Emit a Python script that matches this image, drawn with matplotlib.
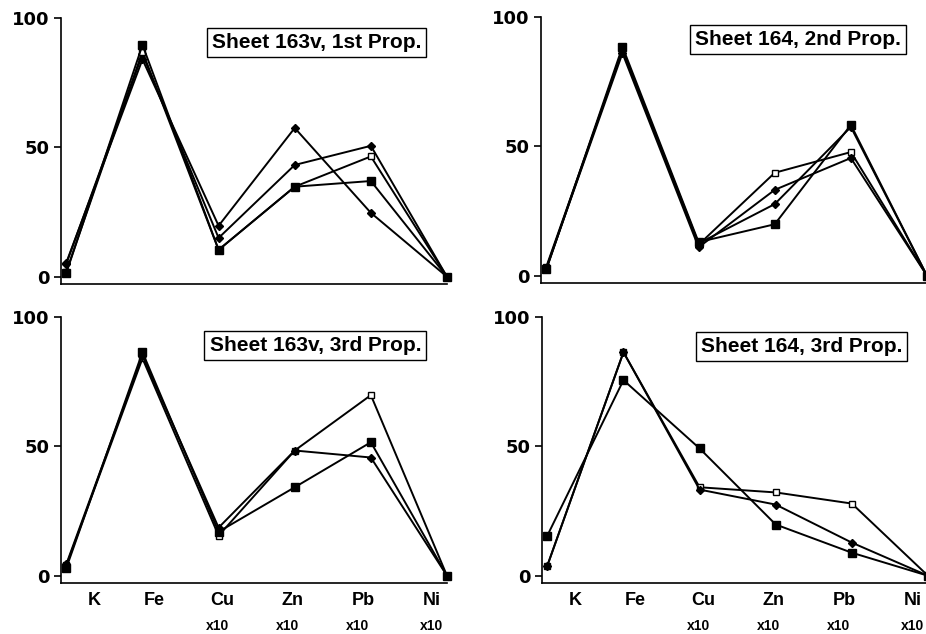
import numpy as np
from matplotlib import pyplot as plt
import matplotlib.transforms as mtransforms

plt.rcParams['font.family'] = ['Liberation Sans', 'DejaVu Sans']
plt.rcParams['font.weight'] = 'bold'

elements = ['K', 'Fe', 'Cu', 'Zn', 'Pb', 'Ni']
scale_labels = ['', '', 'x10', 'x10', 'x10', 'x10']

# Sheet 163v, 1st Prop.
p1_a = [5.5, 84.0, 19.7, 57.5, 24.7, 0]
p1_b = [5.0, 86.0, 15.0, 43.2, 50.6, 0]
p1_c = [2.0, 87.0, 10.4, 34.8, 46.5, 0]
p1_d = [1.5, 89.6, 10.4, 34.8, 37.0, 0]

# Sheet 164, 2nd Prop.
p2_a = [3.5, 87.0, 12.0, 39.8, 47.8, 0]
p2_b = [3.0, 86.0, 11.0, 33.2, 45.5, 0]
p2_c = [2.5, 87.5, 12.5, 27.7, 57.5, 0]
p2_d = [2.5, 88.5, 13.0, 19.9, 58.3, 0]

# Sheet 163v, 3rd Prop.
p3_a = [4.0, 84.0, 15.5, 48.4, 69.8, 0]
p3_b = [4.5, 85.0, 18.6, 48.4, 45.7, 0]
p3_c = [3.0, 86.4, 17.0, 34.2, 51.6, 0]

# Sheet 164, 3rd Prop.
p4_a = [3.9, 86.4, 34.2, 32.2, 27.9, 0]
p4_b = [3.9, 86.4, 33.3, 27.5, 12.8, 0]
p4_c = [15.5, 75.6, 49.2, 19.8, 8.9, 0]

styles = {
    'open': dict(marker='s', ms=4.5, mfc='white', mec='black', mew=1.0),
    'dia': dict(marker='D', ms=3.8, mfc='black', mec='black'),
    'sq': dict(marker='s', ms=5.5, mfc='black', mec='black'),
}

panels = [
    ('Sheet 163v, 1st Prop.', [(p1_a, 'dia'), (p1_b, 'dia'), (p1_c, 'open'), (p1_d, 'sq')],
     [61/926, 1 - 284/634, 386/926, 266/634], False, 0.944),
    ('Sheet 164, 2nd Prop.', [(p2_a, 'open'), (p2_b, 'dia'), (p2_c, 'dia'), (p2_d, 'sq')],
     [541/926, 1 - 283/634, 386/926, 266/634], False, 0.951),
    ('Sheet 163v, 3rd Prop.', [(p3_a, 'open'), (p3_b, 'dia'), (p3_c, 'sq')],
     [61/926, 1 - 583/634, 386/926, 266/634], True, 0.929),
    ('Sheet 164, 3rd Prop.', [(p4_a, 'open'), (p4_b, 'dia'), (p4_c, 'sq')],
     [542/926, 1 - 583/634, 386/926, 266/634], True, 0.925),
]

label_pos = [0.37, 1.15, 2.05, 2.97, 3.9, 4.8]
scale_pos = [0, 0, 1.98, 2.9, 3.83, 4.8]

fig = plt.figure(figsize=(9.26, 6.34), dpi=100)
x = np.arange(len(elements))

for title, series, rect, show_labels, ty in panels:
    ax = fig.add_axes(rect)
    for vals, st in series:
        ax.plot(x, vals, color='black', lw=1.4, clip_on=False, zorder=3, **styles[st])
    ax.set_xlim(-0.07, 5.0)
    ax.set_ylim(-2.8, 100)
    ax.spines['top'].set_visible(False)
    ax.spines['right'].set_visible(False)
    ax.spines['left'].set_linewidth(1.2)
    ax.spines['bottom'].set_linewidth(1.2)
    ax.set_yticks([0, 50, 100])
    ax.set_yticklabels(['0', '50', '100'], fontsize=13, fontweight='bold',
                       family='DejaVu Sans')
    ax.tick_params(axis='y', direction='out', length=5, width=1.2, pad=3)
    ax.set_xticks([])
    ax.text(0.933, ty, title, transform=ax.transAxes, ha='right', va='top',
            fontsize=15, fontweight='bold',
            bbox=dict(boxstyle='square,pad=0.25', fc='white', ec='black', lw=1.0))
    if show_labels:
        trans = mtransforms.blended_transform_factory(ax.transData, ax.transAxes)
        for lab, px in zip(elements, label_pos):
            ax.text(px, -0.065, lab, transform=trans, ha='center', va='center',
                    fontsize=13, fontweight='bold', clip_on=False)
        for lab, px in zip(scale_labels, scale_pos):
            if lab:
                ax.text(px, -0.16, lab, transform=trans, ha='center', va='center',
                        fontsize=10, fontweight='bold', clip_on=False)

plt.savefig('out.png', dpi=100)
